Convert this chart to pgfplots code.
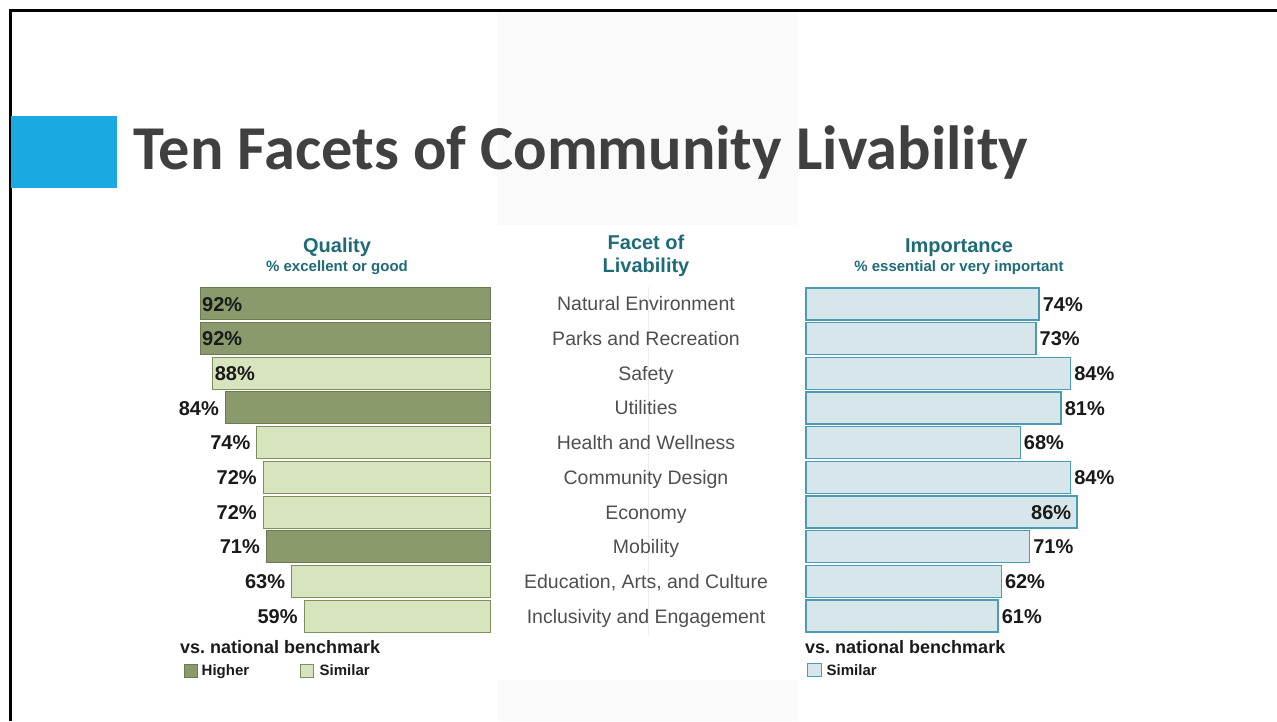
\documentclass[border=0pt]{standalone}
\usepackage{fontspec}
\setmainfont{Liberation Sans}
\newfontfamily\titlefont{Carlito}
\usepackage{pgfplots}
\pgfplotsset{compat=1.18}
\definecolor{hi}{HTML}{8A9A6C}
\definecolor{hiedge}{HTML}{6B7B50}
\definecolor{si}{HTML}{D7E4BD}
\definecolor{siedge}{HTML}{7D8F5C}
\definecolor{imp}{HTML}{D6E6EB}
\definecolor{impedge}{HTML}{4A9CB2}
\definecolor{hdr}{HTML}{1E6B77}
\definecolor{catgray}{HTML}{4F4F4F}
\definecolor{titlegray}{HTML}{404040}
\definecolor{sqblue}{HTML}{1BA9E1}
\definecolor{lbl}{HTML}{1A1A1A}
\tikzset{
  pctlabel/.style={font=\bfseries\fontsize{20}{22}\selectfont, text=lbl, text height=14.3pt, text depth=0pt, inner sep=0pt},
}
\pgfplotsset{/pgf/number format/assume math mode=true}
\begin{document}
\begin{tikzpicture}[x=1pt,y=1pt]
\path[use as bounding box] (0,0) rectangle (1277,721);
\fill[black!2] (497,496) rectangle (798,709);
\fill[black!2] (497,0) rectangle (798,41);
\draw[line width=3pt] (10,0) -- (10,710.5) -- (1277,710.5);
\fill[sqblue] (11,533) rectangle (117,605);
\node[anchor=base west, inner sep=0pt, text=titlegray, font=\titlefont\bfseries\fontsize{62.4}{70}\selectfont] at (133,551) {Ten Facets of Community Livability};
\draw[black!7] (648,434) -- (648,86);

% headers
\node[anchor=base, inner sep=0pt, text=hdr, font=\bfseries\fontsize{20}{24}\selectfont] at (337,468) {Quality};
\node[anchor=base, inner sep=0pt, text=hdr, font=\bfseries\fontsize{15}{18}\selectfont] at (337,449.5) {\% excellent or good};
\node[anchor=base, inner sep=0pt, text=hdr, font=\bfseries\fontsize{20}{24}\selectfont] at (646,471) {Facet of};
\node[anchor=base, inner sep=0pt, text=hdr, font=\bfseries\fontsize{20}{24}\selectfont] at (646,448) {Livability};
\node[anchor=base, inner sep=0pt, text=hdr, font=\bfseries\fontsize{20}{24}\selectfont] at (959,468) {Importance};
\node[anchor=base, inner sep=0pt, text=hdr, font=\bfseries\fontsize{15}{18}\selectfont] at (959,449.5) {\% essential or very important};

% left axis: Quality
\begin{axis}[at={(490pt,434.5pt)}, anchor=north east, scale only axis,
  width=315pt, height=347pt, xmin=0, xmax=100, x dir=reverse,
  ymin=-0.5, ymax=9.5, y dir=reverse,
  axis line style={draw=none}, major tick length=0pt, xtick=\empty, ytick=\empty,
  clip=false]
\addplot[xbar, bar shift=0pt, bar width=32pt, fill=hi, draw=hiedge, line width=1pt,
  point meta=x, nodes near coords={\pgfmathprintnumber[assume math mode=true]{\pgfplotspointmeta}\%},
  every node near coord/.append style={pctlabel, anchor=west, xshift=1.5pt}]
  coordinates {(92,0) (92,1)};
\addplot[xbar, bar shift=0pt, bar width=32pt, fill=hi, draw=hiedge, line width=1pt,
  point meta=x, nodes near coords={\pgfmathprintnumber[assume math mode=true]{\pgfplotspointmeta}\%},
  every node near coord/.append style={pctlabel, anchor=east, xshift=-6pt}]
  coordinates {(84,3) (71,7)};
\addplot[xbar, bar shift=0pt, bar width=32pt, fill=si, draw=siedge, line width=1pt,
  point meta=x, nodes near coords={\pgfmathprintnumber[assume math mode=true]{\pgfplotspointmeta}\%},
  every node near coord/.append style={pctlabel, anchor=west, xshift=1.5pt}]
  coordinates {(88,2)};
\addplot[xbar, bar shift=0pt, bar width=32pt, fill=si, draw=siedge, line width=1pt,
  point meta=x, nodes near coords={\pgfmathprintnumber[assume math mode=true]{\pgfplotspointmeta}\%},
  every node near coord/.append style={pctlabel, anchor=east, xshift=-6pt}]
  coordinates {(74,4) (72,5) (72,6) (63,8) (59,9)};
\end{axis}

% right axis: Importance
\begin{axis}[at={(806pt,434.5pt)}, anchor=north west, scale only axis,
  width=315pt, height=347pt, xmin=0, xmax=100,
  ymin=-0.5, ymax=9.5, y dir=reverse,
  axis line style={draw=none}, major tick length=0pt, xtick=\empty,
  ytick={0,...,9},
  yticklabels={Natural Environment, Parks and Recreation, Safety, Utilities, Health and Wellness, Community Design, Economy, Mobility, {Education, Arts, and Culture}, Inclusivity and Engagement},
  yticklabel pos=left,
  yticklabel style={anchor=center, xshift=-160pt, font=\fontsize{19.5}{22}\selectfont, text=catgray, text height=14pt, text depth=0pt, inner sep=0pt},
  clip=false]
\addplot[xbar, bar shift=0pt, bar width=32pt, fill=imp, draw=impedge, line width=1.4pt,
  point meta=x, nodes near coords={\pgfmathprintnumber[assume math mode=true]{\pgfplotspointmeta}\%},
  every node near coord/.append style={pctlabel, anchor=west, xshift=3pt}]
  coordinates {(74,0) (73,1) (84,2) (81,3) (68,4) (84,5) (71,7) (62,8) (61,9)};
\addplot[xbar, bar shift=0pt, bar width=32pt, fill=imp, draw=impedge, line width=1.4pt,
  point meta=x, nodes near coords={\pgfmathprintnumber[assume math mode=true]{\pgfplotspointmeta}\%},
  every node near coord/.append style={pctlabel, anchor=east, xshift=-5pt}]
  coordinates {(86,6)};
\end{axis}

% legends
\node[anchor=base west, inner sep=0pt, text=lbl, font=\bfseries\fontsize{18}{20}\selectfont] at (180,67.5) {vs.\ national benchmark};
\filldraw[fill=hi, draw=hiedge, line width=1pt] (184,44) rectangle (197,57);
\node[anchor=base west, inner sep=0pt, text=lbl, font=\bfseries\fontsize{15}{18}\selectfont] at (201.5,46) {Higher};
\filldraw[fill=si, draw=siedge, line width=1pt] (300,44) rectangle (313,57);
\node[anchor=base west, inner sep=0pt, text=lbl, font=\bfseries\fontsize{15}{18}\selectfont] at (319.5,46) {Similar};
\node[anchor=base west, inner sep=0pt, text=lbl, font=\bfseries\fontsize{18}{20}\selectfont] at (805,68) {vs.\ national benchmark};
\filldraw[fill=imp, draw=impedge, line width=1pt] (807,45) rectangle (821,58);
\node[anchor=base west, inner sep=0pt, text=lbl, font=\bfseries\fontsize{15}{18}\selectfont] at (826.5,46) {Similar};
\end{tikzpicture}
\end{document}
